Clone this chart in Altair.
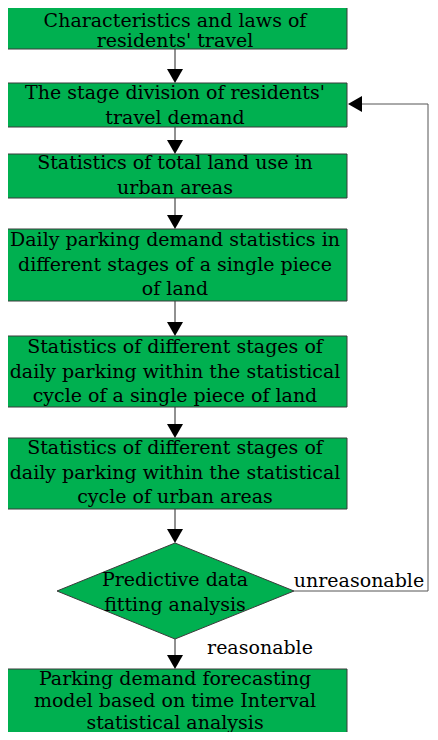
import altair as alt
import pandas as pd

# --- flowchart content ---
box_labels = [
    "Characteristics and laws of\nresidents' travel",
    "The stage division of residents'\ntravel demand",
    "Statistics of total land use in\nurban areas",
    "Daily parking demand statistics in\ndifferent stages of a single piece\nof land",
    "Statistics of different stages of\ndaily parking within the statistical\ncycle of a single piece of land",
    "Statistics of different stages of\ndaily parking within the statistical\ncycle of urban areas",
    "Parking demand forecasting\nmodel based on time Interval\nstatistical analysis",
]
box_top = [5, 83, 154, 229, 336, 438, 669]
box_bottom = [49, 127, 198, 301, 407, 509, 748]
box_left = [3] * 7
box_right = [347] * 7
box_first_line = [20.5, 93, 163, 240, 347, 448, 679]
box_line_height = [20.5, 24.5, 24.5, 24.5, 24.5, 24.5, 22]

decision_label = "Predictive data\nfitting analysis"
decision_x = [57, 175, 294]
decision_top = [591, 543, 591]
decision_bottom = [591, 639, 591]
decision_first_line = 580

edge_labels = ["unreasonable", "reasonable"]
edge_label_x = [359, 260]
edge_label_y = [581, 648]

# vertical arrows: (start y, tip y) at x = 175
arrow_start = [49, 127, 198, 301, 407, 509, 639]
arrow_tip = [83, 154, 229, 336, 438, 543, 669]
arrow_x = 175

# feedback path
fb_x = [294, 428, 428, 348]
fb_y = [591, 591, 104, 104]

GREEN = "#00B050"
EDGE = "#3a3a3a"
FONT = "DejaVu Serif"
FS = 19

X = alt.Scale(domain=[8, 430], nice=False, zero=False)
Y = alt.Scale(domain=[8, 732], nice=False, zero=False, reverse=True)

boxes = pd.DataFrame({
    "label": box_labels, "x1": box_left, "x2": box_right,
    "y1": box_top, "y2": box_bottom, "ty": box_first_line, "lh": box_line_height,
})
boxes["cx"] = (boxes.x1 + boxes.x2) / 2

rects = alt.Chart(boxes).mark_rect(fill=GREEN, stroke=EDGE, strokeWidth=1).encode(
    x=alt.X("x1:Q", scale=X, axis=None), x2="x2:Q",
    y=alt.Y("y1:Q", scale=Y, axis=None), y2="y2:Q",
)

text_layers = []
for lh in sorted(set(box_line_height)):
    sub = boxes[boxes.lh == lh]
    text_layers.append(
        alt.Chart(sub).mark_text(
            font=FONT, fontSize=FS, lineHeight=lh, lineBreak="\n",
            align="center", baseline="middle", color="black",
        ).encode(x=alt.X("cx:Q", scale=X, axis=None), y=alt.Y("ty:Q", scale=Y, axis=None), text="label:N")
    )

dia = pd.DataFrame({"x": decision_x, "y": decision_top, "y2": decision_bottom})
diamond = alt.Chart(dia).mark_area(fill=GREEN, stroke=EDGE, strokeWidth=1, orient="vertical").encode(
    x=alt.X("x:Q", scale=X, axis=None),
    y=alt.Y("y:Q", scale=Y, axis=None), y2="y2:Q",
)
dia_text = alt.Chart(pd.DataFrame({"label": [decision_label], "x": [175], "y": [decision_first_line]})).mark_text(
    font=FONT, fontSize=FS, lineHeight=25, lineBreak="\n",
    align="center", baseline="middle", color="black",
).encode(x=alt.X("x:Q", scale=X, axis=None), y=alt.Y("y:Q", scale=Y, axis=None), text="label:N")

arr = pd.DataFrame({"y1": arrow_start, "y2": arrow_tip})
arr["x"] = arrow_x
arr["head"] = arr.y2 - 7
shafts = alt.Chart(arr).mark_rule(color="#222222", strokeWidth=1).encode(
    x=alt.X("x:Q", scale=X, axis=None),
    y=alt.Y("y1:Q", scale=Y, axis=None), y2="head:Q",
)
heads = alt.Chart(arr).mark_point(
    shape="M-1,-0.875 L1,-0.875 L0,0.875 Z", filled=True, color="black", size=256, opacity=1,
).encode(x=alt.X("x:Q", scale=X, axis=None), y=alt.Y("head:Q", scale=Y, axis=None))

fb = pd.DataFrame({"x": fb_x, "y": fb_y, "o": range(len(fb_x))})
fb.loc[3, "x"] = fb_x[3] + 7
fb_line = alt.Chart(fb).mark_line(color="#555555", strokeWidth=1).encode(
    x=alt.X("x:Q", scale=X, axis=None), y=alt.Y("y:Q", scale=Y, axis=None), order="o:Q",
)
fb_head = alt.Chart(pd.DataFrame({"x": [fb_x[3] + 7], "y": [fb_y[3]]})).mark_point(
    shape="M0.875,-1 L0.875,1 L-0.875,0 Z", filled=True, color="black", size=256, opacity=1,
).encode(x=alt.X("x:Q", scale=X, axis=None), y=alt.Y("y:Q", scale=Y, axis=None))

edge = pd.DataFrame({"label": edge_labels, "x": edge_label_x, "y": edge_label_y})
edge_text = alt.Chart(edge).mark_text(
    font=FONT, fontSize=FS, align="center", baseline="middle", color="black",
).encode(x=alt.X("x:Q", scale=X, axis=None), y=alt.Y("y:Q", scale=Y, axis=None), text="label:N")

chart = alt.layer(
    shafts, fb_line, rects, diamond, heads, fb_head, *text_layers, dia_text, edge_text
).properties(width=422, height=724, padding=0, autosize=alt.AutoSizeParams(type="none")).configure_view(stroke=None)

chart.save("out.html", embed_options={"renderer": "svg", "actions": False})
